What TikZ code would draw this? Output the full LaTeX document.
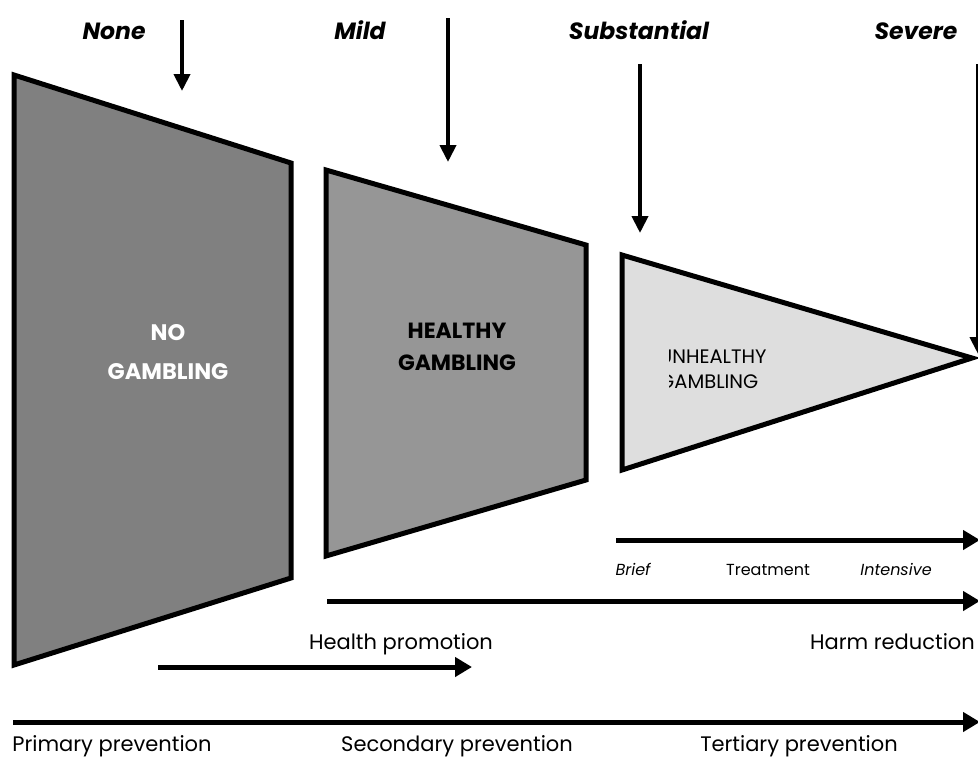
\documentclass[tikz,border=0pt]{standalone}
\usepackage{fontspec}
\setmainfont{Poppins}
\usetikzlibrary{arrows.meta}
\definecolor{darkfill}{RGB}{128,128,128}
\definecolor{midfill}{RGB}{150,150,150}
\definecolor{lightfill}{RGB}{222,222,222}
\tikzset{
  stagebox/.style={draw=black, line width=5pt, line join=miter},
  bigarrow/.style={line width=5pt, -{Triangle[length=17pt,width=19pt]}},
  toparrow/.style={line width=4pt, -{Triangle[length=17pt,width=16pt]}},
  lbl/.style={inner sep=0pt, anchor=base, font=\fontsize{21}{24}\selectfont},
  smlbl/.style={inner sep=0pt, anchor=base, font=\fontsize{16}{18}\selectfont},
  smitlbl/.style={inner sep=0pt, anchor=base, font=\fontsize{16}{18}\selectfont\itshape},
  toplbl/.style={inner sep=0pt, anchor=base, font=\fontsize{23.5}{26}\selectfont\bfseries\itshape},
  stagelbl/.style={inner sep=0pt, align=center},
}
\begin{document}
\begin{tikzpicture}[x=1pt,y=-1pt]
\useasboundingbox (0,0) rectangle (978,758);
% shapes
\coordinate (a1) at (14,75); \coordinate (a2) at (291,163);
\coordinate (a3) at (291,578); \coordinate (a4) at (14,665);
\coordinate (b1) at (326,170); \coordinate (b2) at (586,245);
\coordinate (b3) at (586,480); \coordinate (b4) at (326,556);
\coordinate (c1) at (622,255); \coordinate (c2) at (972,358);
\coordinate (c3) at (622,470);
\draw[stagebox, fill=darkfill] (a1) -- (a2) -- (a3) -- (a4) -- cycle;
\draw[stagebox, fill=midfill] (b1) -- (b2) -- (b3) -- (b4) -- cycle;
\draw[stagebox, fill=lightfill] (c1) -- (c2) -- (c3) -- cycle;
% stage labels
\node[stagelbl, text=white, font=\fontsize{22.5}{39}\selectfont\bfseries] (nog) at (168,352) {NO\\GAMBLING};
\node[stagelbl, font=\fontsize{22}{32}\selectfont\bfseries] (hg) at (457,347) {HEALTHY\\GAMBLING};
\begin{scope}
\clip (669,300) rectangle (900,410);
\node[inner sep=0pt, align=left, anchor=base west, font=\fontsize{19.5}{25}\selectfont] (ug) at (659,388) {UNHEALTHY\\GAMBLING};
\end{scope}
% top labels
\node[toplbl] (none) at (114,39) {None};
\node[toplbl] (mild) at (360,39) {Mild};
\node[toplbl] (subs) at (639,39) {Substantial};
\node[toplbl] (sev) at (916,39) {Severe};
% top arrows
\coordinate (n0) at (182,20); \coordinate (n1) at (182,91);
\coordinate (m0) at (448,18); \coordinate (m1) at (448,162);
\coordinate (s0) at (640,64); \coordinate (s1) at (640,233);
\coordinate (v0) at (978,64); \coordinate (v1) at (978,354);
\draw[toparrow] (n0) -- (n1);
\draw[toparrow] (m0) -- (m1);
\draw[toparrow] (s0) -- (s1);
\draw[toparrow] (v0) -- (v1);
% horizontal arrows
\coordinate (t0) at (616,540); \coordinate (t1) at (980,540);
\coordinate (h0) at (327,601); \coordinate (h1) at (980,601);
\coordinate (p0) at (158,667); \coordinate (p1) at (472,667);
\coordinate (q0) at (13,722); \coordinate (q1) at (980,722);
\draw[bigarrow] (t0) -- (t1);
\draw[bigarrow] (h0) -- (h1);
\draw[bigarrow] (p0) -- (p1);
\draw[bigarrow] (q0) -- (q1);
% lower labels
\node[smitlbl] (brief) at (633,575) {Brief};
\node[smlbl] (treat) at (768,575) {Treatment};
\node[smitlbl] (inten) at (896,575) {Intensive};
\node[lbl] (hp) at (401,649) {Health promotion};
\node[lbl, anchor=base east] (hr) at (975,649) {Harm reduction};
\node[lbl] (pp) at (112,751) {Primary prevention};
\node[lbl] (sp) at (457,751) {Secondary prevention};
\node[lbl] (tp) at (799,751) {Tertiary prevention};
\end{tikzpicture}
\end{document}
